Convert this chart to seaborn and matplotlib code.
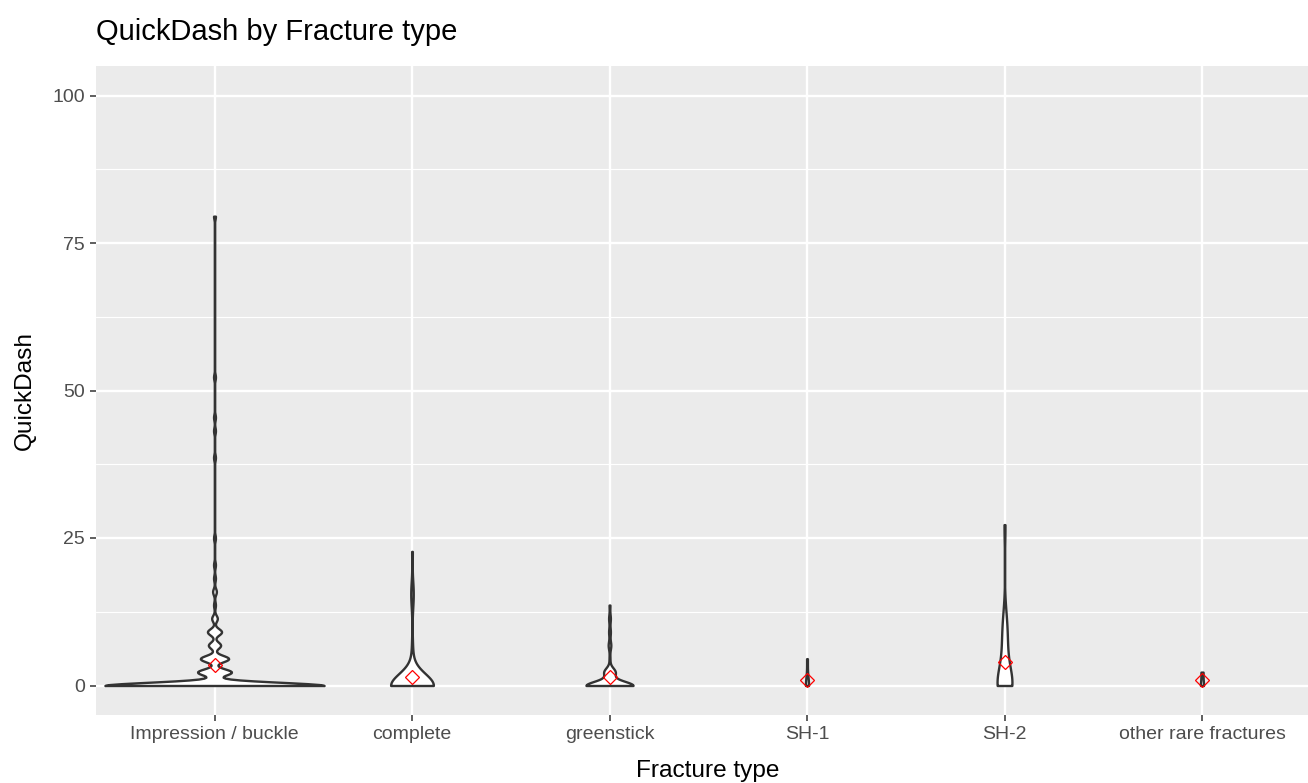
import numpy as np
import pandas as pd
import matplotlib
matplotlib.use("Agg")
import matplotlib.pyplot as plt
import matplotlib.ticker as ticker
import seaborn as sns

FRACTURE_TYPES = ["Impression / buckle", "complete", "greenstick",
                  "SH-1", "SH-2", "other rare fractures"]

# QuickDash scores seen in each group and how many patients had each score
BUCKLE_SCORES = [0, 2.27, 4.55, 6.82, 9.09, 11.36, 13.64, 15.91, 18.18, 20.45,
                 25.0, 38.64, 43.18, 45.45, 52.27, 79.55]
BUCKLE_COUNTS = [232, 36, 30, 13, 15, 6, 2, 4, 2, 2, 2, 2, 2, 2, 2, 2]

COMPLETE_SCORES = [0, 2.27, 4.55, 6.82, 13.64, 15.91, 22.73]
COMPLETE_COUNTS = [61, 1, 1, 1, 1, 3, 1]

GREENSTICK_SCORES = [0, 2.27, 4.55, 6.82, 9.09, 11.36, 13.64]
GREENSTICK_COUNTS = [54, 13, 1, 3, 2, 2, 1]

SH1_SCORES = [0, 4.55]
SH1_COUNTS = [4, 1]

SH2_SCORES = [0, 2.27, 4.55, 6.82, 9.09, 11.36, 27.27]
SH2_COUNTS = [13, 2, 2, 2, 2, 2, 1]

RARE_SCORES = [0, 2.27]
RARE_COUNTS = [3, 2]

groups = [BUCKLE_SCORES, COMPLETE_SCORES, GREENSTICK_SCORES, SH1_SCORES, SH2_SCORES, RARE_SCORES]
counts = [BUCKLE_COUNTS, COMPLETE_COUNTS, GREENSTICK_COUNTS, SH1_COUNTS, SH2_COUNTS, RARE_COUNTS]

frames = []
for name, sc, ct in zip(FRACTURE_TYPES, groups, counts):
    vals = np.repeat(sc, ct)
    frames.append(pd.DataFrame({"Fracture type": name, "QuickDash": vals}))
df = pd.concat(frames, ignore_index=True)


# R's bw.nrd0 rule, given to the kde as a factor of the sample sd
def nrd0_factor(kde):
    x = np.asarray(kde.dataset).ravel()
    sd = x.std(ddof=1)
    q1, q3 = np.percentile(x, [25, 75])
    lo = min(sd, (q3 - q1) / 1.34)
    if lo == 0:
        lo = sd if sd > 0 else 1.0
    return 0.9 * lo * len(x) ** -0.2 / sd


sns.set_theme(style="darkgrid", rc={"axes.facecolor": "#EBEBEB", "grid.color": "white"})
plt.rcParams['font.family'] = ['Liberation Sans', 'DejaVu Sans']

fig = plt.figure(figsize=(13.08, 7.83), dpi=100)
ax = fig.add_axes([96 / 1308, 68 / 783, 1224.5 / 1308, 649 / 783])

sns.violinplot(data=df, x="Fracture type", y="QuickDash", order=FRACTURE_TYPES,
               color="white", saturation=1, linecolor="#333333", linewidth=1.7,
               inner=None, cut=0, gridsize=512, density_norm="count", width=1.11,
               bw_method=nrd0_factor, bw_adjust=1.15, ax=ax)

sns.pointplot(data=df, x="Fracture type", y="QuickDash", order=FRACTURE_TYPES,
              estimator="mean", errorbar=None, color="red", marker="D",
              linestyle="none", markersize=7.2, markerfacecolor="none",
              markeredgewidth=0.9, ax=ax)

ax.set_xlim(-0.6, 5.6)
ax.set_ylim(-5, 105)
ax.set_yticks([0, 25, 50, 75, 100])
ax.yaxis.set_minor_locator(ticker.MultipleLocator(12.5))
ax.grid(True, which="major", color="white", linewidth=1.7)
ax.grid(True, which="minor", axis="y", color="white", linewidth=0.85)
ax.set_axisbelow(True)
ax.tick_params(which="major", length=4.3, width=1.1, color="#333333",
               labelcolor="#4D4D4D", labelsize=14, pad=3.6, bottom=True, left=True)
ax.tick_params(which="minor", length=0)
for s in ax.spines.values():
    s.set_visible(False)
ax.set_xlabel("")
ax.set_ylabel("")

fig.text(96 / 1308, 1 - 40 / 783, "QuickDash by Fracture type", fontsize=21,
         ha="left", va="baseline", color="black")
fig.text(708 / 1308, 1 - 777 / 783, "Fracture type", fontsize=17.6,
         ha="center", va="baseline", color="black")
fig.text(25 / 1308, 1 - 390.5 / 783, "QuickDash", fontsize=17.6, rotation=90,
         ha="center", va="center", color="black")

fig.savefig("out.png", dpi=100)
